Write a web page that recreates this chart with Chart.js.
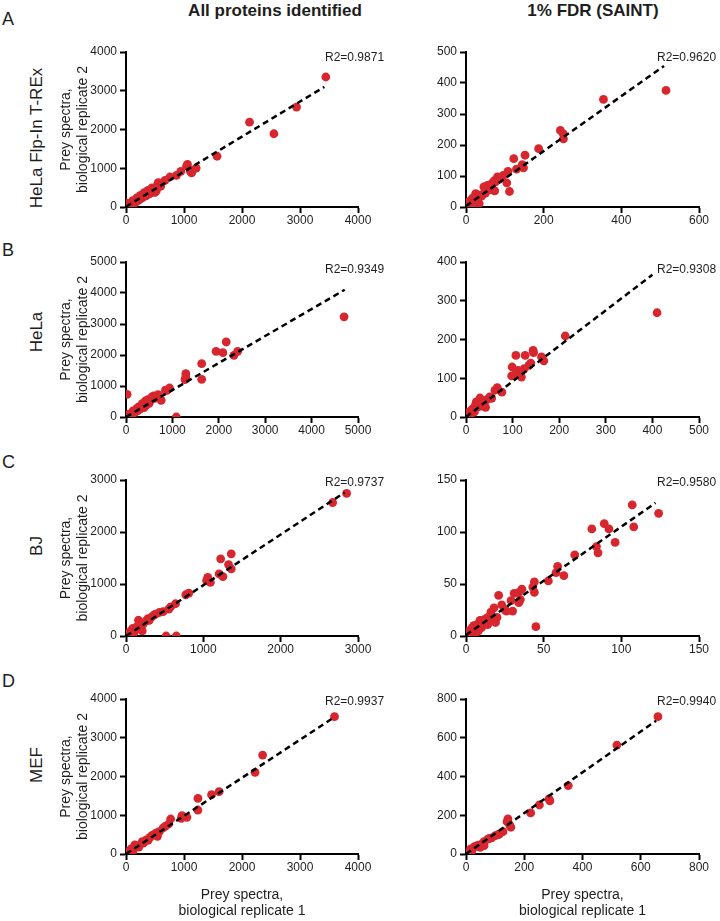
<!DOCTYPE html>
<html><head><meta charset="utf-8">
<script src="https://cdn.jsdelivr.net/npm/chart.js@4.4.1/dist/chart.umd.min.js"></script>
<style>
html,body{margin:0;padding:0;background:#fff;width:720px;height:921px;overflow:hidden;position:relative;font-family:"Liberation Sans",Arial,Helvetica,sans-serif;color:#1e1e1e}
.abs{position:absolute;white-space:nowrap;line-height:1}
canvas{position:absolute}
</style></head><body>
<script>
// ---------- text ----------
const colTitles = ["All proteins identified", "1% FDR (SAINT)"];
const rowLetters = ["A", "B", "C", "D"];
const rowLabels = ["HeLa Flp-In T-REx", "HeLa", "BJ", "MEF"];
const yTitle = ["Prey spectra,", "biological replicate 2"];
const xTitle = ["Prey spectra,", "biological replicate 1"];
const r2Labels = ["R2=0.9871", "R2=0.9620", "R2=0.9349", "R2=0.9308", "R2=0.9737", "R2=0.9580", "R2=0.9937", "R2=0.9940"];

// ---------- axis ranges (per panel: A-all, A-fdr, B-all, B-fdr, C-all, C-fdr, D-all, D-fdr) ----------
const xMaxes = [4000, 600, 5000, 500, 3000, 150, 4000, 800];
const xSteps = [1000, 200, 1000, 100, 1000, 50, 1000, 200];
const yMaxes = [4000, 500, 5000, 400, 3000, 150, 4000, 800];
const ySteps = [1000, 100, 1000, 100, 1000, 50, 1000, 200];

// ---------- data ----------
const aAllX = [3445,2940,2130,2550,1570,1060,1044,1210,1130,1110,945,870,757,672,555,540,522,444,378,313,248,183,117,52,0,20,500,560,470,420,350,290,230,160,100,70,40,10,80,140,200,260,330,400,480,600,1150];
const aAllY = [3355,2580,2190,1890,1310,1100,1058,1005,880,920,920,815,774,688,628,560,413,490,430,370,300,232,163,95,60,0,380,520,430,360,290,250,190,120,60,30,20,100,40,100,160,220,300,340,400,540,950];
const aFdrX = [515,354,243,250,251,187,152,123,145,148,130,108,105,112,96,81,76,74,66,74,56,46,46,36,25,27,34,12,2,17,5,8,15,20,30,40,50,60,70,85,90,22,10,3,55,65];
const aFdrY = [376,347,247,237,220,188,167,156,137,126,122,115,78,50,102,97,81,86,75,52,65,65,43,38,43,21,11,16,8,29,2,12,5,25,30,35,45,60,80,90,95,10,20,15,70,55];
const bAllX = [4700,2160,1941,2088,2325,2406,1631,1631,1289,1289,1272,1085,938,881,758,693,595,555,416,432,350,269,228,147,106,24,24,65,500,620,300,180,60,850,470,390,250,120,40];
const bAllY = [3230,2420,2118,2075,1990,2118,1720,1215,1398,1290,1204,0,935,860,537,720,677,645,516,376,430,322,269,193,107,53,731,0,440,600,250,130,30,870,560,300,200,60,80];
const bFdrX = [410,213,144,145,127,107,162,167,99,112,135,139,125,98,119,104,67,62,77,51,30,39,22,34,14,6,18,7,26,10,45,28,3,20,35,55,12,42];
const bFdrY = [269,209,172,166,159,159,155,145,129,120,133,139,125,106,103,108,76,69,64,52,49,39,39,28,21,13,13,4,26,5,45,35,8,30,40,48,18,25];
const cAllX = [2853,2672,1224,1361,1326,1361,1204,1253,1057,1042,1091,773,812,577,553,431,382,333,284,259,161,176,137,88,210,64,15,519,651,39,480,300,220,120,100,50,360,640,30];
const cAllY = [2741,2567,1484,1580,1374,1290,1193,1142,1129,1064,1032,793,826,561,516,452,419,368,335,290,303,258,174,148,97,97,45,0,0,0,470,300,230,110,60,30,400,620,60];
const cFdrX = [107,124,108,81,89,92,96,84,85,70,59,58,63,53,44,43,44,45,36,34,31,35,29,34,30,26,21,23,18,20,16,14,12,9,7,4,2,8,14,19,10,6,5,3,12,17,25];
const cFdrY = [126,118,105,103,108,103,90,86,80,78,67,61,58,53,52,47,42,9,45,42,41,35,34,32,24,24,39,30,27,18,23,18,16,15,11,8,5,5,11,13,8,2,10,3,13,16,25];
const dAllX = [3595,2356,2225,1605,1475,1240,1240,1050,966,953,770,737,639,574,522,542,411,346,281,183,150,85,117,20,52,450,300,220,120,60,680,500,380];
const dAllY = [3543,2554,2107,1608,1531,1436,1135,946,989,920,903,774,671,576,542,456,430,361,318,215,232,129,60,60,0,480,280,180,100,30,720,520,350];
const dFdrX = [659,518,351,285,288,252,222,144,141,154,127,114,101,88,75,62,55,42,29,16,9,62,49,35,20,5,80,110,150];
const dFdrY = [709,562,353,284,274,253,212,181,167,138,115,103,95,83,77,64,52,46,38,26,12,43,34,40,15,3,80,100,150];

// regression line end points
const aAllFitX = [0, 3420], aAllFitY = [10, 3100];
const aFdrFitX = [0, 510],  aFdrFitY = [3, 455];
const bAllFitX = [0, 4715], bAllFitY = [0, 4106];
const bFdrFitX = [0, 400],  bFdrFitY = [0, 367];
const cAllFitX = [0, 2829], cAllFitY = [0, 2761];
const cFdrFitX = [0, 122],  cFdrFitY = [1, 128];
const dAllFitX = [0, 3543], dAllFitY = [0, 3483];
const dFdrFitX = [0, 653],  dFdrFitY = [0, 688];

const panelX = [aAllX, aFdrX, bAllX, bFdrX, cAllX, cFdrX, dAllX, dFdrX];
const panelY = [aAllY, aFdrY, bAllY, bFdrY, cAllY, cFdrY, dAllY, dFdrY];
const fitXs = [aAllFitX, aFdrFitX, bAllFitX, bFdrFitX, cAllFitX, cFdrFitX, dAllFitX, dFdrFitX];
const fitYs = [aAllFitY, aFdrFitY, bAllFitY, bFdrFitY, cAllFitY, cFdrFitY, dAllFitY, dFdrFitY];

// ---------- layout ----------
const FONT = '"Liberation Sans", Arial, Helvetica, sans-serif';
const ROW_T = [52, 262, 480, 699], ROW_B = [207, 417, 636, 854];
const COL_L = [126, 466], COL_R = [358, 699];
const CANVAS_L = [50, 420], RIGHT_PAD = [30, 21];
const R2_DX = [-33, -42], R2_DY = [6, 8, 3, 3];
const LABEL_CY = [138, 332, 546, 765];
const LETTER_CY = [19, 250, 462, 681];
const TITLE_CX = [275, 593];

function addText(txt, css) {
  const d = document.createElement('div');
  d.className = 'abs';
  d.textContent = txt;
  Object.assign(d.style, css);
  document.body.appendChild(d);
}
colTitles.forEach((t, i) => addText(t, {left: TITLE_CX[i] + 'px', top: '10px', transform: 'translate(-50%,-50%)', fontWeight: 'bold', fontSize: '17px'}));
rowLetters.forEach((t, i) => addText(t, {left: '2px', top: LETTER_CY[i] + 'px', transform: 'translateY(-50%)', fontSize: '18px'}));
rowLabels.forEach((t, i) => addText(t, {left: '36px', top: LABEL_CY[i] + 'px', transform: 'translate(-50%,-50%) rotate(-90deg)', fontSize: '17px'}));

const r2Plugin = {
  id: 'r2text',
  afterDraw(chart, args, opts) {
    const {ctx, chartArea} = chart;
    ctx.save();
    ctx.font = '12px ' + FONT;
    ctx.fillStyle = '#1e1e1e';
    ctx.textAlign = 'left';
    ctx.textBaseline = 'middle';
    ctx.fillText(opts.text, chartArea.right + opts.dx, chartArea.top + opts.dy);
    ctx.restore();
  }
};

function axisOpts(max, step, extra) {
  return Object.assign({
    type: 'linear', min: 0, max: max,
    grid: {display: true, drawOnChartArea: false, drawTicks: true, tickLength: 6, tickWidth: 2, tickColor: '#000'},
    border: {display: true, color: '#000', width: 2},
    ticks: {stepSize: step, color: '#1e1e1e', font: {family: FONT, size: 12}, maxRotation: 0, autoSkip: false, callback: v => String(v)}
  }, extra);
}

for (let p = 0; p < 8; p++) {
  const r = Math.floor(p / 2), c = p % 2;
  const L = CANVAS_L[c];
  const yW = COL_L[c] - L;
  const W = COL_R[c] + RIGHT_PAD[c] - L;
  const T = ROW_T[r] - 20;
  const bottomRow = r === 3;
  const xH = bottomRow ? 67 : 25;
  const H = ROW_B[r] + xH - T;
  const cv = document.createElement('canvas');
  cv.width = W; cv.height = H;
  cv.style.left = L + 'px'; cv.style.top = T + 'px';
  cv.style.width = W + 'px'; cv.style.height = H + 'px';
  document.body.appendChild(cv);

  const pts = panelX[p].map((x, i) => ({x: x, y: panelY[p][i]}));
  const fit = fitXs[p].map((x, i) => ({x: x, y: fitYs[p][i]}));

  const xScale = axisOpts(xMaxes[p], xSteps[p], {
    position: 'bottom',
    afterFit: s => { s.height = xH; },
    title: {display: bottomRow, text: xTitle, color: '#1e1e1e', font: {family: FONT, size: 14, lineHeight: 1.2}, padding: {top: 0, bottom: 1}}
  });
  xScale.ticks.padding = 0;
  const yScale = axisOpts(yMaxes[p], ySteps[p], {
    position: 'left',
    afterFit: s => { s.width = yW; },
    title: {display: c === 0, text: yTitle, color: '#1e1e1e', font: {family: FONT, size: 14, lineHeight: 1.2}, padding: {top: 8, bottom: 0}}
  });
  yScale.ticks.padding = 3;

  new Chart(cv, {
    type: 'scatter',
    data: {
      datasets: [
        {data: fit, showLine: true, borderColor: '#000', borderWidth: 2.5, borderDash: [6, 4], pointRadius: 0, fill: false, order: 0},
        {data: pts, pointRadius: 4.4, pointBackgroundColor: '#d7262e', pointBorderWidth: 0, backgroundColor: '#d7262e', borderWidth: 0, order: 1}
      ]
    },
    options: {
      responsive: false, animation: false, devicePixelRatio: 1,
      layout: {padding: {top: 20, right: RIGHT_PAD[c], left: 0, bottom: 0}},
      plugins: {legend: {display: false}, tooltip: {enabled: false}, r2text: {text: r2Labels[p], dx: R2_DX[c], dy: R2_DY[r]}},
      scales: {x: xScale, y: yScale}
    },
    plugins: [r2Plugin]
  });
}
</script>
</body></html>
